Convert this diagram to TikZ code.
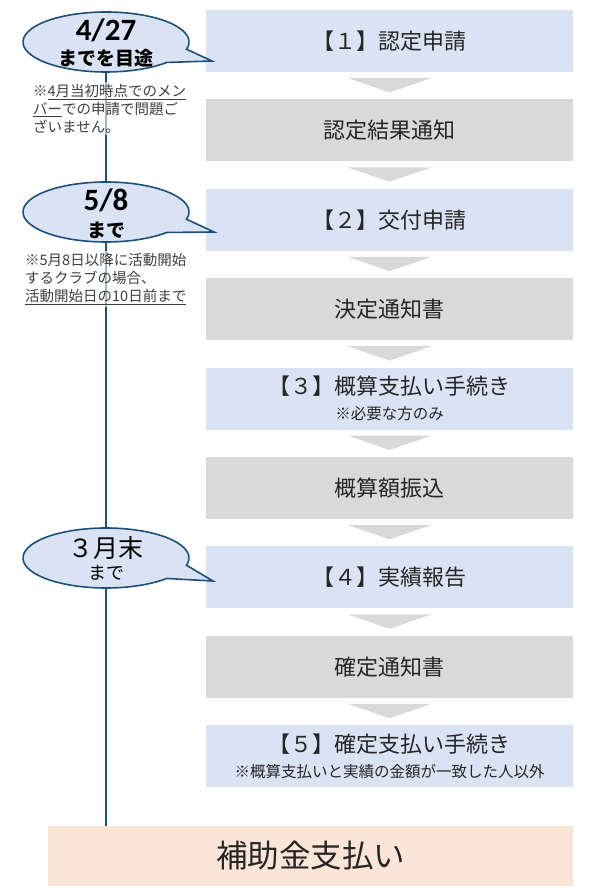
\documentclass[tikz,border=0pt]{standalone}
\usepackage{fontspec}
\setmainfont{Noto Sans CJK JP}
\newfontfamily\numfont{Carlito}
\usetikzlibrary{calc}
\definecolor{stepblue}{HTML}{DAE3F3}
\definecolor{stepgray}{HTML}{D9D9D9}
\definecolor{payorange}{HTML}{FBE5D6}
\definecolor{linenavy}{HTML}{1F4E79}
\definecolor{textgray}{HTML}{262626}
\definecolor{notegray}{HTML}{3F3F3F}

\begin{document}
\begin{tikzpicture}[x=1pt,y=-1pt,
  stepbox/.style={minimum width=367pt, minimum height=62pt, inner sep=0pt, outer sep=0pt,
    text=textgray, align=center, font=\fontsize{22}{25}\selectfont},
  bluebox/.style={stepbox, fill=stepblue},
  graybox/.style={stepbox, fill=stepgray},
  chev/.style={fill=stepgray},
  bubble/.style={draw=linenavy, line width=1.6pt, fill=stepblue},
  timeline/.style={draw=linenavy, line width=1.3pt},
  bignum/.style={inner sep=0pt, font=\numfont\bfseries\fontsize{31}{31}\selectfont},
  duetext/.style={inner sep=0pt, font=\bfseries\fontsize{19}{19}\selectfont},
  note/.style={anchor=north west, align=left, inner sep=2pt, text=notegray, fill=white,
    fill opacity=0.6, text opacity=1, font=\fontsize{14.5}{18}\selectfont}
]
\useasboundingbox (0,0) rectangle (593,896);

\node[bluebox] (s1) at (389.5,41) {【１】認定申請};
\node[graybox] (s2) at (389.5,130.4) {認定結果通知};
\node[bluebox] (s3) at (389.5,219.8) {【２】交付申請};
\node[graybox] (s4) at (389.5,309.2) {決定通知書};
\node[bluebox] (s5) at (389.5,398.6) {【３】概算支払い手続き\\{\fontsize{15.5}{18}\selectfont ※必要な方のみ}};
\node[graybox] (s6) at (389.5,488) {概算額振込};
\node[bluebox] (s7) at (389.5,577.4) {【４】実績報告};
\node[graybox] (s8) at (389.5,666.8) {確定通知書};
\node[bluebox] (s9) at (389.5,756.2) {【５】確定支払い手続き\\{\fontsize{15.5}{18}\selectfont ※概算支払いと実績の金額が一致した人以外}};
\node[minimum width=525pt, minimum height=60pt, inner sep=0pt, outer sep=0pt, fill=payorange,
  text=textgray, font=\fontsize{31.5}{31.5}\selectfont] (pay) at (310.5,856) {補助金支払い};

\foreach \a/\b in {s1/s2,s2/s3,s3/s4,s4/s5,s5/s6,s6/s7,s7/s8,s8/s9}
  \fill[chev] ($(\a.south)+(-42,6)$) -- ($(\a.south)+(42,6)$) -- ($(\b.north)+(0,-7)$) -- cycle;

\coordinate (c1) at (106,42);
\coordinate (c2) at (106,212);
\coordinate (c3) at (106,558);
\draw[timeline] (c1) -- (c1 |- pay.north);

\node[note] (n1) at (31,82) {※\underline{4月当初時点でのメン}\\\underline{バー}での申請で問題ご\\ざいません。};
\node[note] (n2) at (23,251) {※5月8日以降に活動開始\\するクラブの場合、\\\underline{活動開始日の10日前まで}};

\draw[bubble] (c1) ++(14:83 and 30) arc[start angle=14, end angle=-317, x radius=83, y radius=30] -- (212,61) -- cycle;
\node[bignum] (d1) at (106,30) {4/27};
\node[duetext] (d1b) at (106,58) {までを目途};

\draw[bubble] (c2) ++(14:83 and 30) arc[start angle=14, end angle=-317, x radius=83, y radius=30] -- (214,232) -- cycle;
\node[bignum] (d2) at (106,200) {5/8};
\node[duetext] (d2b) at (106,230) {まで};

\draw[bubble] (c3) ++(14:83 and 30) arc[start angle=14, end angle=-317, x radius=83, y radius=30] -- (213,581) -- cycle;
\node[inner sep=0pt, font=\fontsize{25}{25}\selectfont] (d3) at (106,548) {３月末};
\node[inner sep=0pt, font=\fontsize{18}{18}\selectfont] (d3b) at (106,573) {まで};

\end{tikzpicture}
\end{document}
